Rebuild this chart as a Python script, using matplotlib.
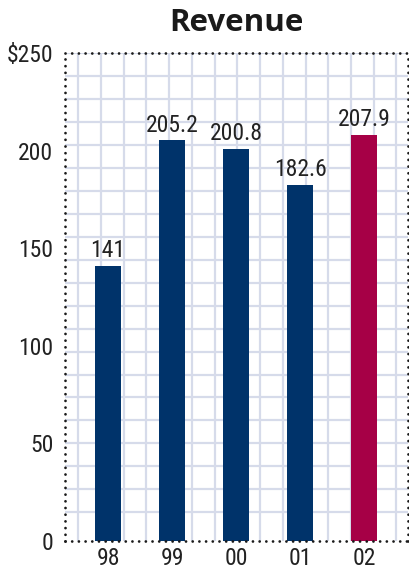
import numpy as np
import matplotlib
matplotlib.use("Agg")
import matplotlib.pyplot as plt
from matplotlib import font_manager

# Revenue by year, 1998-2002 ($ millions)
years = ["98", "99", "00", "01", "02"]
revenue = [141, 205.2, 200.8, 182.6, 207.9]
value_labels = ["141", "205.2", "200.8", "182.6", "207.9"]
y_ticks = [0, 50, 100, 150, 200, 250]
y_tick_labels = ["0", "50", "100", "150", "200", "$250"]

NAVY = "#00336A"
CRIMSON = "#A60046"
GRID = "#D6DBEA"

# pick the narrowest sans that is installed for the numbers
installed = {f.name for f in font_manager.fontManager.ttflist}
num_font, num_size = "Roboto", 15.5
for name, size in [("Liberation Sans Narrow", 17.5), ("Roboto Condensed", 17),
                   ("Open Sans Condensed", 17)]:
    if name in installed:
        num_font, num_size = name, size
        break
narrow = [num_font, "DejaVu Sans"]

fig = plt.figure(figsize=(4.09, 5.71), dpi=100)
ax = fig.add_axes([0.159, 0.0525, 0.8386, 0.8547])

x = np.arange(len(years))
colors = [NAVY] * (len(years) - 1) + [CRIMSON]
bars = ax.bar(x, revenue, width=0.4, color=colors, zorder=3)

# graph paper background
for gy in list(np.linspace(250, 50, 18)) + [38.2, 26.5, 14.7]:
    ax.axhline(gy, color=GRID, lw=1.6, zorder=1)
for gx in np.arange(-0.464, 4.69, 0.355):
    ax.axvline(gx, color=GRID, lw=1.6, zorder=1)

for b, lab in zip(bars, value_labels):
    ax.text(b.get_x() + b.get_width() / 2, b.get_height() + 2.0, lab,
            ha="center", va="bottom", fontsize=num_size, family=narrow, color="#222222", zorder=4)

ax.set_xlim(-0.672, 4.6875)
ax.set_ylim(0, 250)
ax.set_xticks(x)
ax.set_xticklabels(years, family=narrow, fontsize=num_size, color="#222222")
ax.set_yticks(y_ticks)
ax.set_yticklabels(y_tick_labels, family=narrow, fontsize=num_size, color="#222222")
ax.tick_params(length=0, pad=8.5)
ax.tick_params(axis="x", pad=4)

for side in ["top", "bottom", "left", "right"]:
    sp = ax.spines[side]
    sp.set_linestyle((0, (0.01, 2.4)))
    sp.set_linewidth(2)
    sp.set_capstyle("round")
    sp.set_color("#1a1a1a")
    sp.set_zorder(5)

ax.set_title("Revenue", fontsize=22.5, fontweight="bold", family=["Open Sans", "DejaVu Sans"],
             color="#1a1a1a", pad=16)

fig.savefig("out.png", dpi=100)
